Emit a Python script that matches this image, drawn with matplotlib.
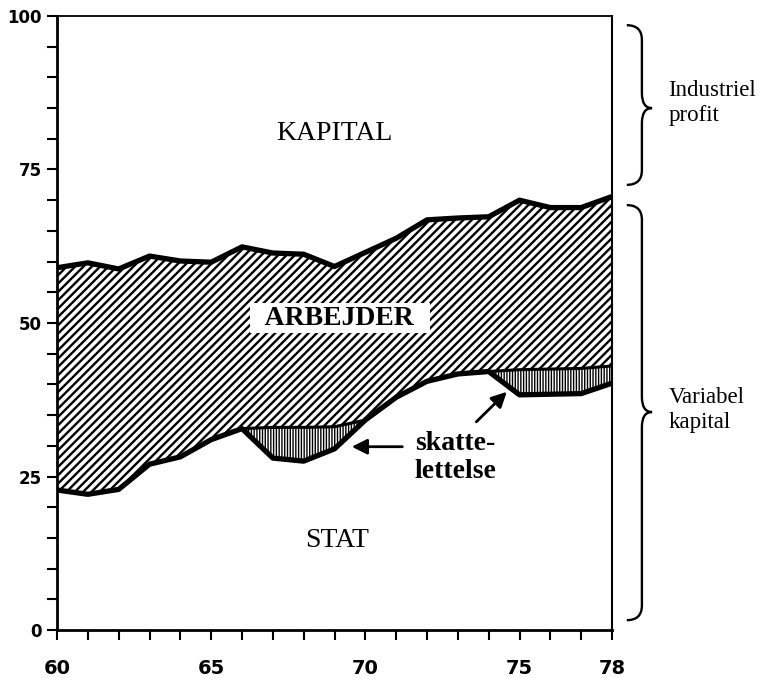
import numpy as np
import matplotlib
matplotlib.use('Agg')
import matplotlib.pyplot as plt
from matplotlib.path import Path
from matplotlib.patches import PathPatch

# data (percent shares by year)
years = [60, 61, 62, 63, 64, 65, 66, 67, 68, 69, 70, 71, 72, 73, 74, 75, 76, 77, 78]
# top of STAT (lower edge of the tax relief band)
stat_top = [22.8, 22.1, 22.9, 27.0, 28.2, 31.0, 32.8, 28.0, 27.5, 29.5, 34.2,
            37.9, 40.5, 41.7, 42.1, 38.3, 38.4, 38.5, 40.2]
# lower edge of ARBEJDER (= upper edge of the tax relief band)
arbejder_bund = [22.8, 22.1, 22.9, 27.0, 28.2, 31.0, 32.8, 33.0, 33.0, 33.1, 34.2,
                 37.9, 40.5, 41.7, 42.1, 42.4, 42.5, 42.6, 43.0]
# upper edge of ARBEJDER (below it is KAPITAL)
arbejder_top = [59.0, 59.8, 58.8, 60.9, 60.1, 59.9, 62.4, 61.4, 61.2, 59.2, 61.5,
                63.8, 66.8, 67.1, 67.3, 70.0, 68.8, 68.8, 70.6]

x_labels = ['60', '65', '70', '75', '78']
y_labels = ['0', '25', '50', '75', '100']

# braces on the right: (bottom, top, tip) in percent
brace_profit = (72.5, 98.5, 85.0)
brace_variabel = (1.6, 69.2, 35.5)

yrs = np.array(years)
stat_top = np.array(stat_top)
arbejder_bund = np.array(arbejder_bund)
arbejder_top = np.array(arbejder_top)

serif = 'Liberation Serif'
plt.rcParams['hatch.linewidth'] = 1.7

fig = plt.figure(figsize=(7.6, 6.78), dpi=100)
ax = fig.add_axes([57/760, 48/678, 555/760, 614/678])

# tax relief band (vertical hatch)
skat = ax.fill_between(yrs, stat_top, arbejder_bund, where=arbejder_bund > stat_top,
                       interpolate=True, facecolor='white', edgecolor='black',
                       hatch='||||||', linewidth=0)

# workers band (diagonal hatch)
arb = ax.fill_between(yrs, arbejder_bund, arbejder_top, facecolor='white',
                      edgecolor='black', hatch='////', linewidth=0)

if hasattr(skat, 'set_hatch_linewidth'):
    skat.set_hatch_linewidth(1.0)
    arb.set_hatch_linewidth(1.7)

ax.plot(yrs, arbejder_bund, color='black', lw=2.2, solid_joinstyle='round')
ax.plot(yrs, stat_top, color='black', lw=3.8, solid_joinstyle='round', solid_capstyle='butt')
ax.plot(yrs, arbejder_top, color='black', lw=3.8, solid_joinstyle='round', solid_capstyle='butt')

ax.set_xlim(60, 78)
ax.set_ylim(0, 100)

ax.set_xticks([60, 65, 70, 75, 78])
ax.set_xticklabels(x_labels)
ax.set_xticks(years, minor=True)
ax.set_yticks([0, 25, 50, 75, 100])
ax.set_yticklabels(y_labels)
ax.set_yticks(np.arange(0, 101, 5), minor=True)

for lab in ax.get_xticklabels():
    lab.set_fontsize(14)
    lab.set_fontweight('bold')
for lab in ax.get_yticklabels():
    lab.set_fontsize(12)
    lab.set_fontweight('bold')

ax.tick_params(axis='both', which='both', direction='out', length=7.2, width=1.5, color='black')
ax.tick_params(axis='x', which='both', pad=14)
ax.tick_params(axis='y', which='both', pad=3.5)

ax.spines['left'].set_linewidth(2.0)
ax.spines['bottom'].set_linewidth(2.0)
ax.spines['top'].set_linewidth(1.3)
ax.spines['right'].set_linewidth(1.5)

# area labels
ax.text(69.0, 80.8, 'KAPITAL', family=serif, fontsize=20, ha='center', va='center')
ax.text(69.18, 50.8, '  ARBEJDER  ', family=serif, fontsize=20, fontweight='bold',
        ha='center', va='center',
        bbox=dict(boxstyle='square,pad=0.08', facecolor='white', edgecolor='none'))
ax.text(69.08, 14.5, 'STAT', family=serif, fontsize=20, ha='center', va='center')
ax.text(71.6, 28.1, 'skatte-\nlettelse', family=serif, fontsize=20, fontweight='bold',
        ha='left', va='center', linespacing=1.2)

# arrows to the tax relief bands
arrow = dict(arrowstyle='-|>', lw=2.0, color='black', mutation_scale=23,
             shrinkA=0, shrinkB=0)
ax.annotate('', xy=(69.56, 29.85), xytext=(71.2, 29.85), arrowprops=arrow)
ax.annotate('', xy=(74.59, 38.8), xytext=(73.6, 33.9), arrowprops=arrow)


def brace(ax, lo, hi, tip, x0=78.48, x1=78.97, x2=79.3, r=2.4):
    verts = [(x0, hi), (x1, hi), (x1, hi - r),
             (x1, tip + r), (x1, tip), (x2, tip),
             (x1, tip), (x1, tip - r),
             (x1, lo + r), (x1, lo), (x0, lo)]
    codes = [Path.MOVETO, Path.CURVE3, Path.CURVE3,
             Path.LINETO, Path.CURVE3, Path.CURVE3,
             Path.CURVE3, Path.CURVE3,
             Path.LINETO, Path.CURVE3, Path.CURVE3]
    p = PathPatch(Path(verts, codes), facecolor='none', edgecolor='black',
                  lw=1.7, clip_on=False)
    ax.add_patch(p)


brace(ax, *brace_profit)
brace(ax, *brace_variabel)

ax.text(79.83, 85.8, 'Industriel\nprofit', family=serif, fontsize=16.5,
        ha='left', va='center', linespacing=1.25, clip_on=False)
ax.text(79.83, 35.9, 'Variabel\nkapital', family=serif, fontsize=16.5,
        ha='left', va='center', linespacing=1.25, clip_on=False)

fig.savefig('out.png', dpi=100)
